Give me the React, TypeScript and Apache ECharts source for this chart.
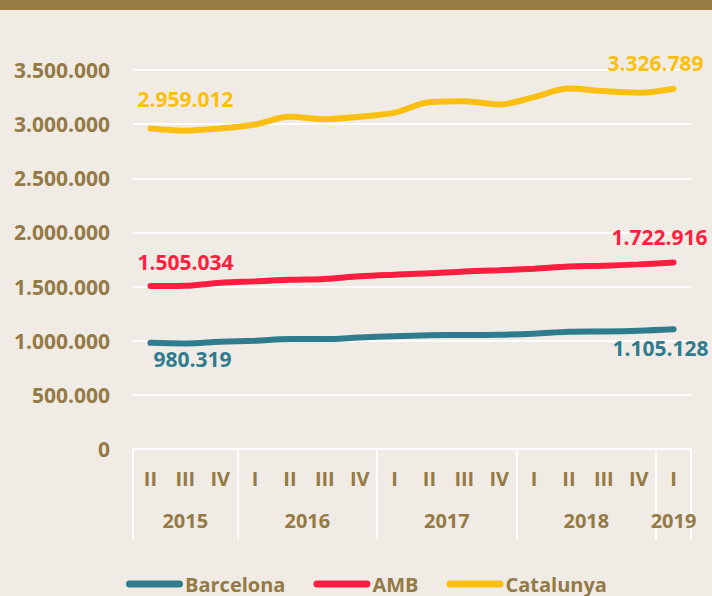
import React, { useEffect, useRef } from "react";
import * as echarts from "echarts";

const quarters = ["II", "III", "IV", "I", "II", "III", "IV", "I", "II", "III", "IV", "I", "II", "III", "IV", "I"];
const years = ["2015", "2016", "2017", "2018", "2019"];
const quartersPerYear = [3, 4, 4, 4, 1];

const barcelona = [980319, 975000, 990000, 1000000, 1015000, 1015000, 1030000, 1042000, 1050000, 1053000, 1055000, 1065000, 1082000, 1085000, 1092000, 1105128];
const amb = [1505034, 1508000, 1535000, 1548000, 1562000, 1570000, 1595000, 1610000, 1622000, 1640000, 1650000, 1665000, 1685000, 1692000, 1705000, 1722916];
const catalunya = [2959012, 2940000, 2960000, 2997000, 3068000, 3046000, 3068000, 3106000, 3203000, 3212000, 3182000, 3250000, 3329000, 3305000, 3290000, 3326789];

const yTicks = [0, 500000, 1000000, 1500000, 2000000, 2500000, 3000000, 3500000];

const BROWN = "#947A44";
const FONT = "Open Sans";

const fmt = (v: number) => String(Math.round(v)).replace(/\B(?=(\d{3})+(?!\d))/g, ".");

export default function App() {
  const ref = useRef<HTMLDivElement>(null);
  useEffect(() => {
    if (!ref.current) return;
    const chart = echarts.init(ref.current, null, { renderer: "svg" });

    const n = quarters.length;
    const yearData: string[] = new Array(2 * n + 1).fill("");
    const tickIdx = new Set<number>([0]);
    const labelIdx = new Set<number>();
    let start = 0;
    years.forEach((y, i) => {
      const end = start + quartersPerYear[i];
      const center = start + end;
      yearData[center] = y;
      labelIdx.add(center);
      tickIdx.add(2 * end);
      start = end;
    });

    const mkData = (arr: number[], first: number[], last: number[]) =>
      arr.map((v, i) => {
        if (i === 0 || i === arr.length - 1) {
          const off = i === 0 ? first : last;
          return {
            value: v,
            label: { show: true, position: "inside", offset: off, formatter: () => fmt(v) },
          };
        }
        return v;
      });

    const series = [
      { name: "Barcelona", color: "#2F7C8E", data: barcelona, first: [42, 16], last: [-13, 19] },
      { name: "AMB", color: "#FF1E40", data: amb, first: [35, -24], last: [-14, -25] },
      { name: "Catalunya", color: "#FBC00F", data: catalunya, first: [35, -30], last: [-18, -26] },
    ];

    chart.setOption({
      animation: false,
      backgroundColor: "#F0EBE5",
      textStyle: { fontFamily: FONT },
      graphic: [
        { type: "rect", left: 0, top: 0, shape: { width: 712, height: 10 }, style: { fill: "#967B45" } },
      ],
      grid: { left: 133, right: 21, top: 70, bottom: 147, containLabel: false },
      legend: {
        bottom: -3,
        left: 121,
        itemWidth: 57,
        itemHeight: 7,
        itemGap: 28,
        icon: "path://M3.5,0 H53.5 A3.5,3.5 0 0 1 53.5,7 H3.5 A3.5,3.5 0 0 1 3.5,0 Z",
        textStyle: { color: BROWN, fontSize: 20, fontWeight: "bold", fontFamily: FONT, padding: [0, 0, 0, -3] },
        data: series.map((s) => s.name),
      },
      xAxis: [
        {
          type: "category",
          data: quarters,
          boundaryGap: true,
          axisLine: { show: true, lineStyle: { color: "#FFFFFF", width: 2 } },
          axisTick: { show: false },
          axisLabel: { color: BROWN, fontSize: 20, fontWeight: "bold", fontFamily: FONT, margin: 19, interval: 0 },
        },
        {
          type: "category",
          data: yearData,
          boundaryGap: false,
          position: "bottom",
          axisLine: { show: false },
          axisTick: {
            show: true,
            length: 90,
            interval: (i: number) => tickIdx.has(i),
            lineStyle: { color: "#FFFFFF", width: 2 },
          },
          axisLabel: {
            color: BROWN,
            fontSize: 20,
            fontWeight: "bold",
            fontFamily: FONT,
            margin: 61,
            interval: (i: number) => labelIdx.has(i),
          },
        },
      ],
      yAxis: {
        type: "value",
        min: yTicks[0],
        max: yTicks[yTicks.length - 1],
        interval: yTicks[1] - yTicks[0],
        axisLine: { show: false },
        axisTick: { show: false },
        splitLine: { show: true, lineStyle: { color: "#FFFFFF", width: 2 } },
        axisLabel: { color: BROWN, fontSize: 21, fontWeight: "bold", fontFamily: FONT, margin: 23, formatter: (v: number) => fmt(v) },
      },
      series: series.map((s) => ({
        name: s.name,
        type: "line",
        xAxisIndex: 0,
        smooth: 0.35,
        symbol: "circle",
        symbolSize: 1,
        showSymbol: true,
        itemStyle: { color: s.color },
        lineStyle: { color: s.color, width: 6, cap: "round" },
        label: { color: s.color, fontSize: 21, fontWeight: "bold", fontFamily: FONT },
        emphasis: { disabled: true },
        data: mkData(s.data, s.first, s.last),
      })),
    });
    return () => chart.dispose();
  }, []);
  return <div ref={ref} style={{ position: "fixed", left: 0, top: 0, width: 712, height: 596 }} />;
}
